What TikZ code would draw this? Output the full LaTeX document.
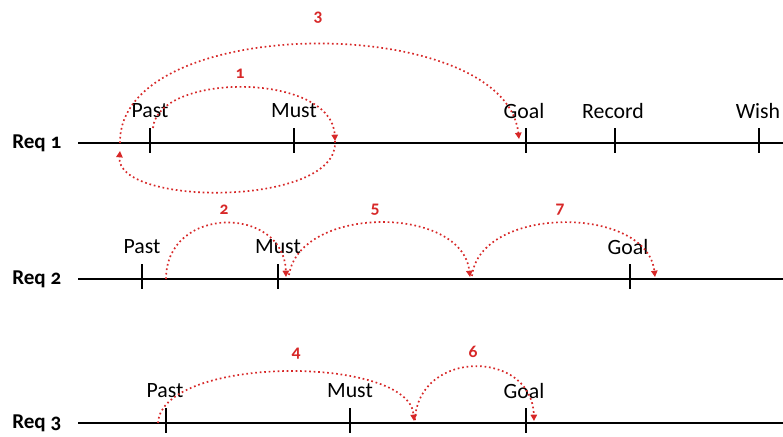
\documentclass[tikz,border=0pt]{standalone}
\usepackage{fontspec}
\setmainfont{Carlito}[Numbers=OldStyle]
\usetikzlibrary{arrows.meta}

\definecolor{jumpred}{RGB}{215,40,40}
\tikzset{
  tick/.style={line width=1.2pt},
  axis/.style={line width=1.2pt},
  jump/.style={jumpred, dotted, line width=1.2pt, -{Triangle[length=4.5pt,width=4.5pt]}},
  jumpnum/.style={text=jumpred, font=\fontsize{12.5}{14}\selectfont\bfseries},
  lbl/.style={font=\fontsize{15.5}{17}\selectfont, inner sep=0pt},
  reqlbl/.style={font=\fontsize{15}{17}\selectfont\bfseries, inner sep=0pt, anchor=west}
}

\begin{document}
\begin{tikzpicture}[x=0.025cm, y=-0.025cm]
            \useasboundingbox (0,0) rectangle (783,436);

            % Req 1
            \node[reqlbl] (req1) at (12,143) {Req 1};
            \draw[axis] (78,143) -- (783,143);
            \draw[tick] (150,128) -- (150,153);
            \draw[tick] (294,128) -- (294,153);
            \draw[tick] (526,128) -- (526,153);
            \draw[tick] (615,128) -- (615,153);
            \draw[tick] (759,128) -- (759,153);
            \node[lbl] (past1) at (150,111) {Past};
            \node[lbl] (must1) at (294,111) {Must};
            \node[lbl] (goal1) at (524,111) {Goal};
            \node[lbl] (record1) at (613,111) {Record};
            \node[lbl] (wish1) at (758,111) {Wish};

            \coordinate (s1) at (153,128);
            \coordinate (e1) at (335,141);
            \coordinate (e1b) at (120,151);
            \coordinate (s3) at (120,143);
            \coordinate (e3) at (519,139);
            \draw[jump] (s1) .. controls (158,72) and (332,72) .. (e1);
            \draw[jump] (e1) .. controls (340,207) and (115,207) .. (e1b);
            \draw[jump] (s3) .. controls (118,12) and (505,12) .. (e3);
            \node[jumpnum] (n1) at (240,74) {1};
            \node[jumpnum] (n3) at (318,18) {3};

            % Req 2
            \node[reqlbl] (req2) at (12,279) {Req 2};
            \draw[axis] (78,279) -- (783,279);
            \draw[tick] (142,264) -- (142,289);
            \draw[tick] (278,264) -- (278,289);
            \draw[tick] (630,264) -- (630,289);
            \node[lbl] (past2) at (142,247) {Past};
            \node[lbl] (must2) at (278,247) {Must};
            \node[lbl] (goal2) at (628,247) {Goal};

            \coordinate (s2) at (166,279);
            \coordinate (e2) at (286,277);
            \coordinate (s5) at (289,275);
            \coordinate (e5) at (470,277);
            \coordinate (s7) at (472,276);
            \coordinate (e7) at (655,277);
            \draw[jump] (s2) .. controls (166,205) and (284,205) .. (e2);
            \draw[jump] (s5) .. controls (300,205) and (462,205) .. (e5);
            \draw[jump] (s7) .. controls (480,205) and (647,205) .. (e7);
            \node[jumpnum] (n2) at (224,210) {2};
            \node[jumpnum] (n5) at (375,210) {5};
            \node[jumpnum] (n7) at (560,210) {7};

            % Req 3
            \node[reqlbl] (req3) at (12,423) {Req 3};
            \draw[axis] (78,423) -- (783,423);
            \draw[tick] (166,408) -- (166,433);
            \draw[tick] (350,408) -- (350,433);
            \draw[tick] (526,408) -- (526,433);
            \node[lbl] (past3) at (165,391) {Past};
            \node[lbl] (must3) at (350,391) {Must};
            \node[lbl] (goal3) at (524,391) {Goal};

            \coordinate (s4) at (158,423);
            \coordinate (e4) at (414,421);
            \coordinate (s6) at (415,420);
            \coordinate (e6) at (534,421);
            \draw[jump] (s4) .. controls (162,355) and (410,355) .. (e4);
            \draw[jump] (s6) .. controls (418,349) and (532,349) .. (e6);
            \node[jumpnum] (n4) at (296,354) {4};
            \node[jumpnum] (n6) at (473,352) {6};
        \end{tikzpicture}
\end{document}
